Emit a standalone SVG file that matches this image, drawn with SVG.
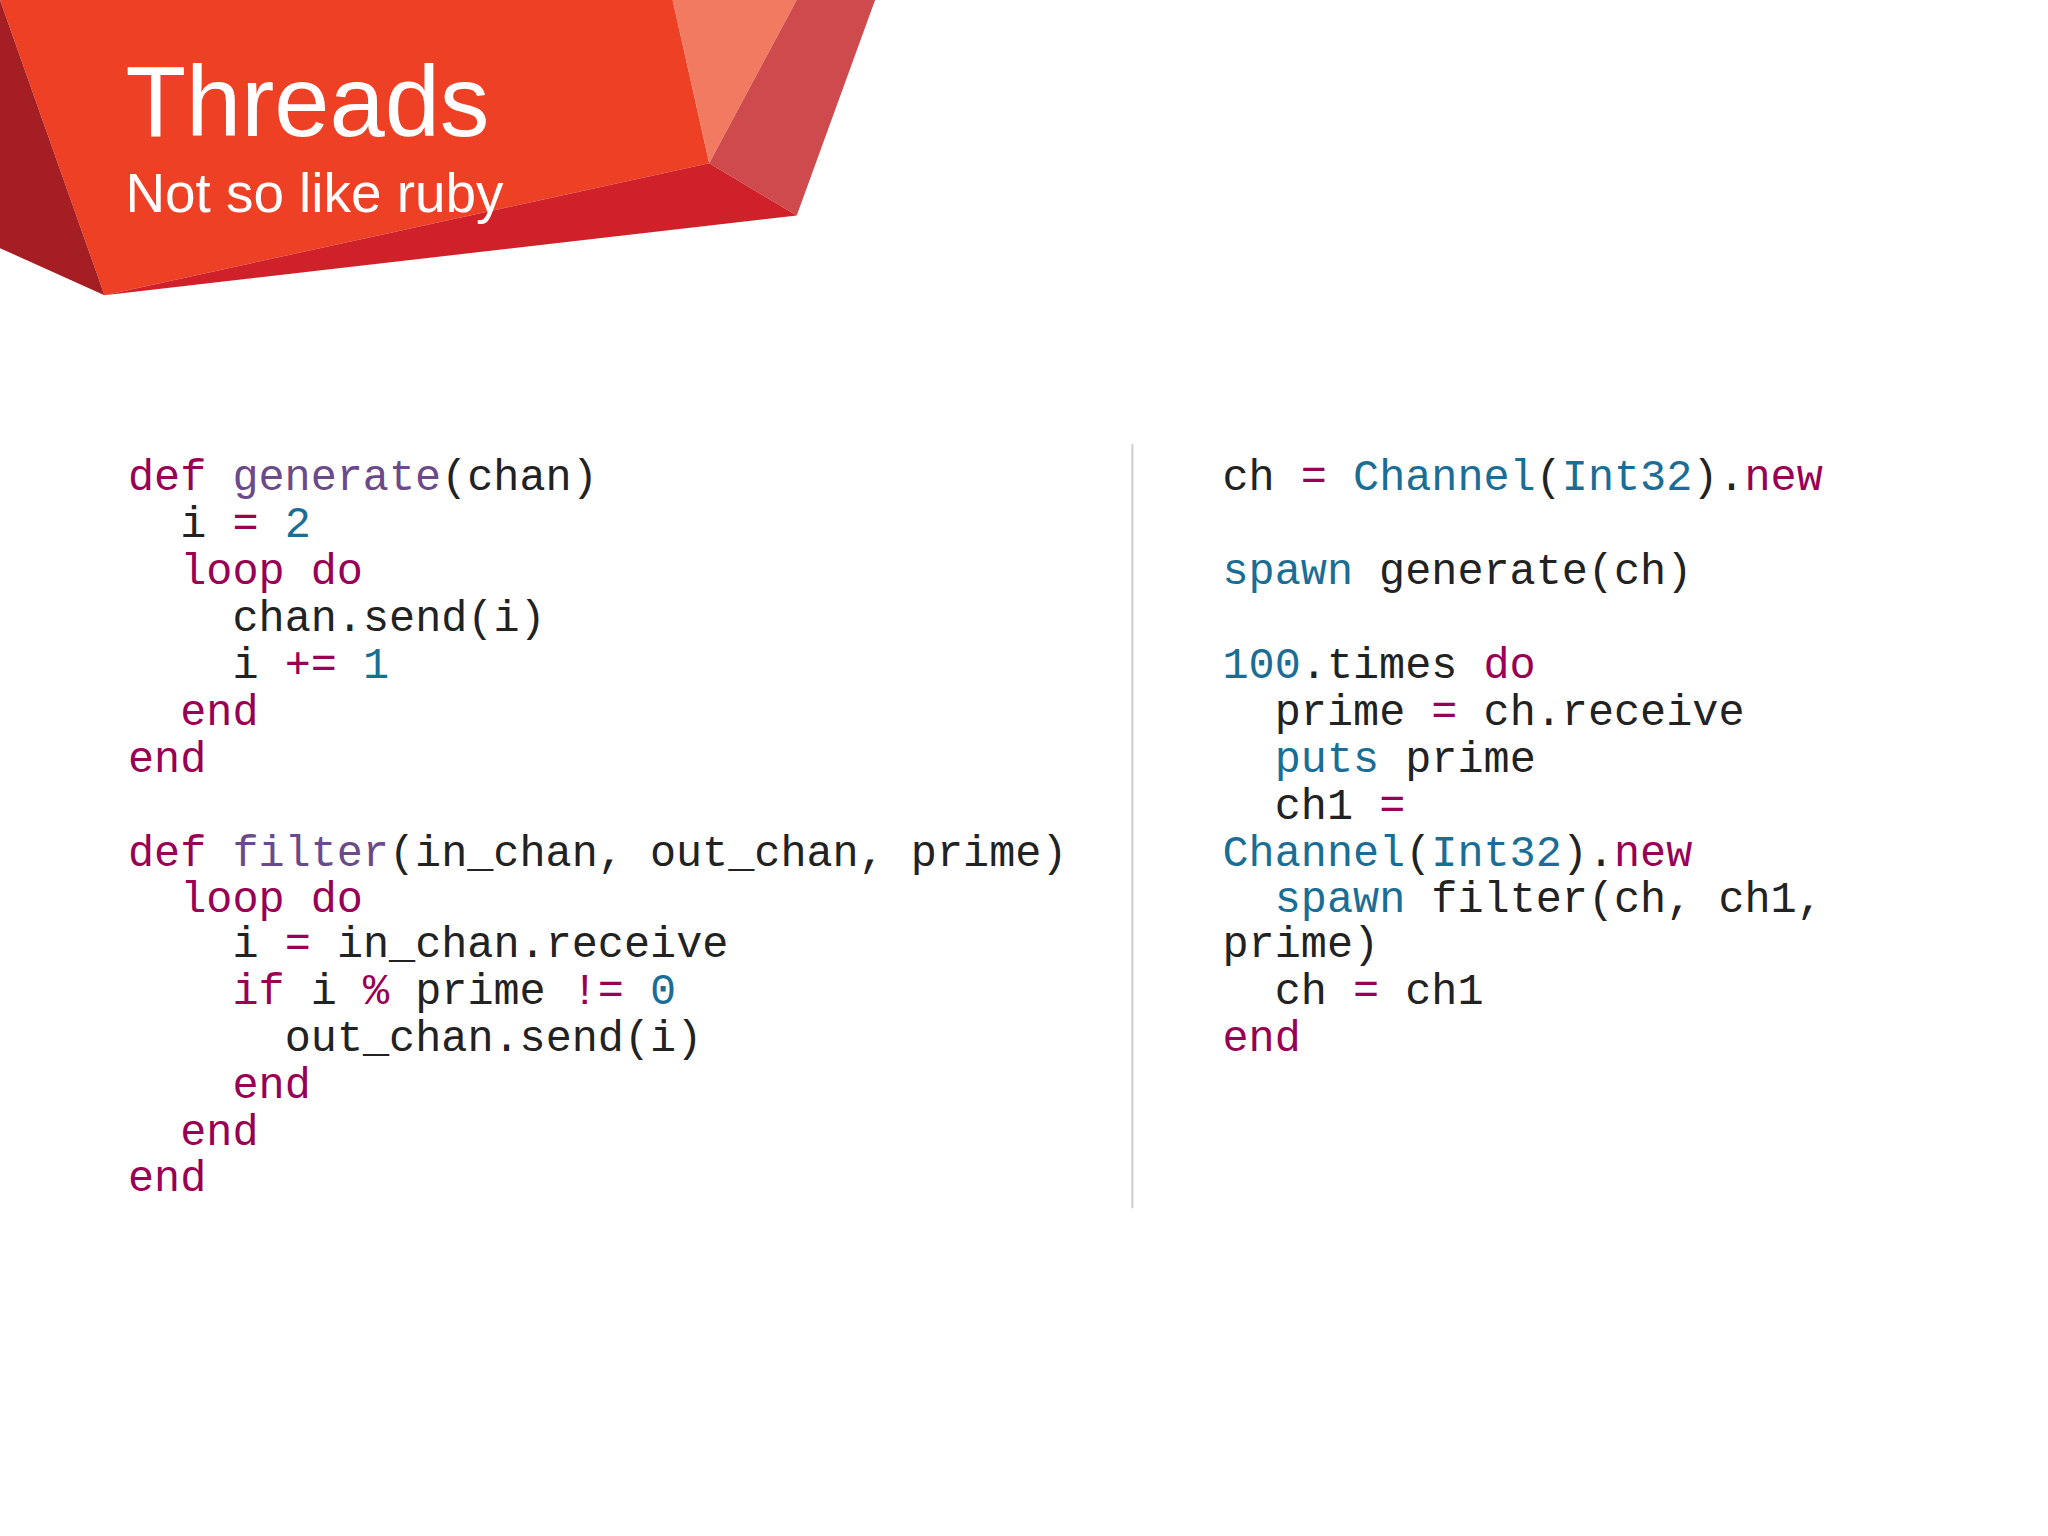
<svg xmlns="http://www.w3.org/2000/svg" width="2048" height="1536" viewBox="0 0 2048 1536">
<style>
.c{font-family:"Liberation Mono","Courier New",monospace;font-size:33.3px;fill:#222}
.k{fill:#990055}.f{fill:#6b4a8a}.n{fill:#1a6e96}
</style>
<rect width="2048" height="1536" fill="#fff"/>
<g transform="scale(1.30612)">
<g id="banner">
<polygon points="0,0 515,0 543,125 80,226" fill="#ee4024"/>
<polygon points="0,0 80,226 0,190" fill="#a51e23"/>
<polygon points="515,0 610,0 543,125" fill="#f27a60"/>
<polygon points="610,0 670,0 610,165 543,125" fill="#cf4a4c"/>
<polygon points="80,226 543,125 610,165" fill="#d0212a"/>
<text x="96" y="104" font-family="Liberation Sans,Arial,sans-serif" font-size="76" fill="#fff">Threads</text>
<text x="96" y="162" font-family="Liberation Sans,Arial,sans-serif" font-size="42" fill="#fff">Not so like ruby</text>
</g>
<line x1="867" y1="340" x2="867" y2="925" stroke="#ccc" stroke-width="1.5"/>
<g id="left" class="c">
<text x="98" y="375"><tspan class="k">def</tspan> <tspan class="f">generate</tspan>(chan)</text>
<text x="138" y="411">i <tspan class="k">=</tspan> <tspan class="n">2</tspan></text>
<text x="138" y="447" class="k">loop do</text>
<text x="178" y="483">chan.send(i)</text>
<text x="178" y="519">i <tspan class="k">+=</tspan> <tspan class="n">1</tspan></text>
<text x="138" y="555" class="k">end</text>
<text x="98" y="591" class="k">end</text>
<text x="98" y="663"><tspan class="k">def</tspan> <tspan class="f">filter</tspan>(in_chan, out_chan, prime)</text>
<text x="138" y="698" class="k">loop do</text>
<text x="178" y="733">i <tspan class="k">=</tspan> in_chan.receive</text>
<text x="178" y="769"><tspan class="k">if</tspan> i <tspan class="k">%</tspan> prime <tspan class="k">!=</tspan> <tspan class="n">0</tspan></text>
<text x="218" y="805">out_chan.send(i)</text>
<text x="178" y="841" class="k">end</text>
<text x="138" y="877" class="k">end</text>
<text x="98" y="912" class="k">end</text>
</g>
<g id="right" class="c">
<text x="936" y="375">ch <tspan class="k">=</tspan> <tspan class="n">Channel</tspan>(<tspan class="n">Int32</tspan>).<tspan class="k">new</tspan></text>
<text x="936" y="447"><tspan class="n">spawn</tspan> generate(ch)</text>
<text x="936" y="519"><tspan class="n">100</tspan>.times <tspan class="k">do</tspan></text>
<text x="976" y="555">prime <tspan class="k">=</tspan> ch.receive</text>
<text x="976" y="591"><tspan class="n">puts</tspan> prime</text>
<text x="976" y="627">ch1 <tspan class="k">=</tspan></text>
<text x="936" y="663"><tspan class="n">Channel</tspan>(<tspan class="n">Int32</tspan>).<tspan class="k">new</tspan></text>
<text x="976" y="698"><tspan class="n">spawn</tspan> filter(ch, ch1,</text>
<text x="936" y="733">prime)</text>
<text x="976" y="769">ch <tspan class="k">=</tspan> ch1</text>
<text x="936" y="805" class="k">end</text>
</g>
</g>
</svg>
